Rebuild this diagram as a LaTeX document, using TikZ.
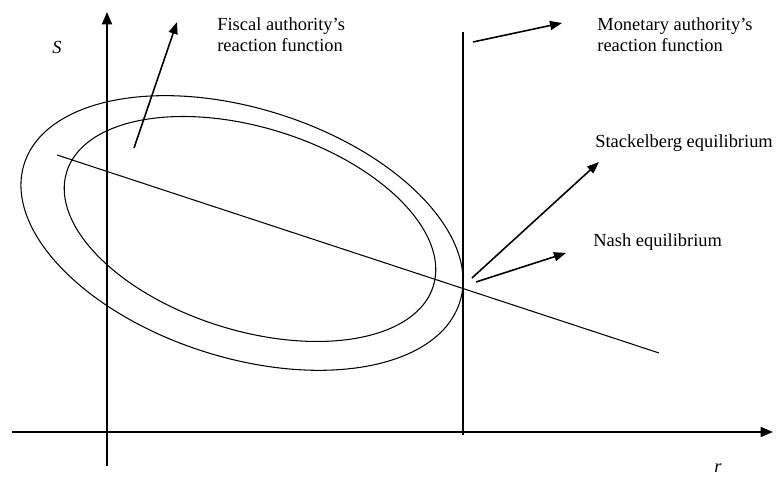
\documentclass[tikz,border=0pt]{standalone}
\usepackage{fontspec}
\setmainfont{Liberation Serif}
\usetikzlibrary{arrows.meta}

\tikzset{
	axis/.style={line width=1.1pt, -{Triangle[length=0.25cm,width=0.2cm]}},
	curve/.style={line width=0.6pt},
	pointer/.style={line width=0.9pt, -{Triangle[length=0.24cm,width=0.18cm]}},
	label/.style={anchor=base west, inner sep=0pt, align=left, font=\fontsize{10.5}{12.5}\selectfont}
}

\begin{document}
\begin{tikzpicture}
		\useasboundingbox (0,0) rectangle (15.64,9.54);

		% axes
		\coordinate (ybot) at (2.14,0.22);
		\coordinate (ytop) at (2.14,9.30);
		\coordinate (xleft) at (0.24,0.90);
		\coordinate (xright) at (15.46,0.90);
		\draw[axis] (ybot) -- (ytop);
		\draw[axis] (xleft) -- (xright);
		\node[font=\fontsize{10.5}{12.5}\selectfont\itshape] (S) at (1.14,8.60) {S};
		\node[font=\fontsize{10.5}{12.5}\selectfont\itshape] (r) at (14.36,0.18) {r};

		% indifference curves
		\draw[curve, rotate around={-17.6:(4.84,4.88)}] (4.84,4.88) ellipse (4.57 and 2.49);
		\draw[curve, rotate around={-17.3:(5.00,4.96)}] (5.00,4.96) ellipse (3.84 and 2.03);

		% reaction functions
		\coordinate (mtop) at (9.26,8.90);
		\coordinate (mbot) at (9.26,0.84);
		\draw[curve] (mbot) -- (mtop);
		\coordinate (fleft) at (1.14,6.44);
		\coordinate (fright) at (13.18,2.48);
		\draw[curve] (fleft) -- (fright);

		% labels (base = last line)
		\node[label] (fiscal) at (4.34,8.50) {Fiscal authority’s\\reaction function};
		\node[label] (monetary) at (11.94,8.50) {Monetary authority’s\\reaction function};
		\node[label] (stackelberg) at (11.90,6.58) {Stackelberg equilibrium};
		\node[label] (nash) at (11.86,4.60) {Nash equilibrium};

		% pointers
		\coordinate (fp) at (2.68,6.58);
		\coordinate (fq) at (3.54,9.10);
		\draw[pointer] (fp) -- (fq);
		\coordinate (mp) at (9.46,8.70);
		\coordinate (mq) at (11.24,9.08);
		\draw[pointer] (mp) -- (mq);
		\coordinate (sp) at (9.44,3.98);
		\coordinate (sq) at (11.98,6.30);
		\draw[pointer] (sp) -- (sq);
		\coordinate (np) at (9.52,3.90);
		\coordinate (nq) at (11.32,4.48);
		\draw[pointer] (np) -- (nq);
	\end{tikzpicture}
\end{document}
